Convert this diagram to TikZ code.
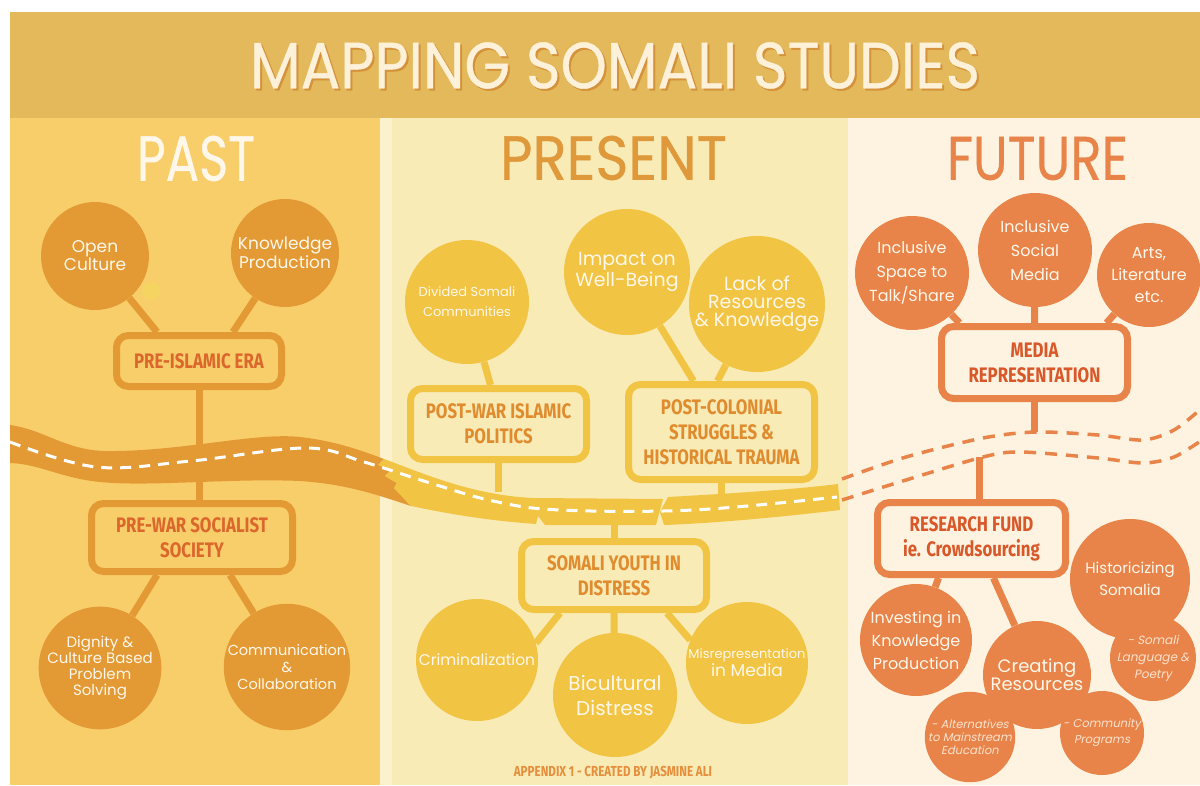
\documentclass[tikz,border=0pt]{standalone}
\usepackage{fontspec}
\usepackage{graphicx}
\newfontfamily\roundfont{Poppins}
\newfontfamily\subfont{Poppins}[FakeSlant=0.2]
\newfontfamily\boxfont{Fira Sans}[FakeStretch=0.8]
\newfontfamily\headfont{Poppins}[FakeBold=0.6]
\newcommand\cfnt[2]{\roundfont\fontsize{#1}{#2}\selectfont}
\newcommand\sfnt[2]{\subfont\fontsize{#1}{#2}\selectfont}
\newcommand\bfnt{\boxfont\bfseries\fontsize{21}{25}\selectfont}

\definecolor{titleband}{HTML}{E4B95B}
\definecolor{titletext}{HTML}{FDF1DA}
\definecolor{titleshade}{HTML}{D4923A}
\definecolor{pastbg}{HTML}{F8CE6A}
\definecolor{pastdark}{HTML}{E39A34}
\definecolor{pasttext}{HTML}{DC672C}
\definecolor{presbg}{HTML}{F8EBB6}
\definecolor{presedge}{HTML}{FBF1CC}
\definecolor{presdark}{HTML}{F2C443}
\definecolor{prestext}{HTML}{E08C2E}
\definecolor{preshead}{HTML}{E0993A}
\definecolor{futbg}{HTML}{FDF3E0}
\definecolor{futdark}{HTML}{E8844A}
\definecolor{futtext}{HTML}{D9582A}
\definecolor{cream}{HTML}{FFF7EA}
\definecolor{subcream}{HTML}{FBE2CC}
\definecolor{dotc}{HTML}{F6D462}
\definecolor{foot}{HTML}{E58E3C}

\pgfdeclarelayer{bg}
\pgfdeclarelayer{lines}
\pgfdeclarelayer{road}
\pgfsetlayers{bg,lines,road,main}

\tikzset{
  bub/.style={circle, text=cream, align=center, inner sep=0pt, minimum size=#1},
  pastbub/.style={bub=#1, fill=pastdark},
  presbub/.style={bub=#1, fill=presdark},
  futbub/.style={bub=#1, fill=futdark},
  subbub/.style={circle, fill=futdark, text=subcream, align=center, inner sep=0pt, minimum size=#1},
  topicbox/.style={rectangle, rounded corners=12pt, line width=7pt, align=center, inner sep=0pt, font=\bfnt},
  pastbox/.style={topicbox, draw=pastdark, fill=pastbg, text=pasttext},
  presbox/.style={topicbox, draw=presdark, fill=presbg, text=prestext},
  futbox/.style={topicbox, draw=futdark, fill=futbg, text=futtext},
  pastline/.style={draw=pastdark, line width=7pt},
  presline/.style={draw=presdark, line width=7pt},
  futline/.style={draw=futdark, line width=7pt},
  heading/.style={inner sep=0pt, anchor=center}
}

\begin{document}
\begin{tikzpicture}[x=1pt,y=-1pt]
\useasboundingbox (0,0) rectangle (1200,785);

% backgrounds
\begin{pgfonlayer}{bg}
\fill[white] (0,0) rectangle (1200,785);
\fill[titleband] (10,12) rectangle (1200,118);
\fill[pastbg] (10,118) rectangle (380,785);
\fill[presbg] (380,118) rectangle (848,785);
\fill[presedge] (380,118) rectangle (392,785);
\fill[futbg] (848,118) rectangle (1200,785);
\end{pgfonlayer}

% title and column headings
\node[heading, text=titleshade] (titlesh) at (617,67.5) {\resizebox{730pt}{46pt}{\headfont MAPPING SOMALI STUDIES}};
\node[heading, text=titletext] (title) at (615,65.5) {\resizebox{730pt}{46pt}{\headfont MAPPING SOMALI STUDIES}};
\node[heading, text=cream] (hpast) at (196,158.5) {\resizebox{118pt}{45pt}{\headfont PAST}};
\node[heading, text=preshead] (hpres) at (613.5,158) {\resizebox{227pt}{44pt}{\headfont PRESENT}};
\node[heading, text=futdark] (hfut) at (1037.5,158.5) {\resizebox{181pt}{43pt}{\headfont FUTURE}};

% road through past and present
\begin{pgfonlayer}{road}
\fill[pastdark] (10,425) .. controls (45,430) and (65,450) .. (105,451)
  .. controls (180,452) and (255,432) .. (300,437)
  .. controls (335,441) and (360,450) .. (384,459)
  -- (378,465) -- (391,470) -- (385,476) -- (397,483) -- (394,488) -- (411,506)
  .. controls (375,494) and (345,484) .. (300,481)
  .. controls (230,478) and (150,487) .. (100,482)
  .. controls (60,478) and (40,464) .. (10,463) -- cycle;
\fill[presdark] (384,459) .. controls (420,472) and (470,495) .. (533,498)
  -- (663,499) -- (656,525) -- (545,525) -- (538,516) -- (536,524)
  .. controls (480,520) and (440,512) .. (411,506)
  -- (394,488) -- (397,483) -- (385,476) -- (391,470) -- (378,465) -- cycle;
\fill[presdark] (668,497) .. controls (720,494) and (790,490) .. (838,484)
  -- (840,510) .. controls (790,516) and (720,523) .. (664,525) -- (660,512) -- cycle;
\draw[white, line width=3pt, dash pattern=on 11pt off 8pt]
  plot[smooth, tension=0.6] coordinates {(10,442) (96,467) (191,461) (306,448) (364,462) (427,482) (493,501) (560,510) (693,510) (837,497)};
% future road, still only sketched
\draw[futdark, line width=3.5pt, dash pattern=on 12pt off 9pt]
  plot[smooth] coordinates {(842,479) (906,457) (983,438) (1036,432) (1098,435) (1143,440) (1174,430) (1202,408)};
\draw[futdark, line width=3.5pt, dash pattern=on 12pt off 9pt]
  plot[smooth] coordinates {(842,500) (906,480) (983,457) (1021,452) (1098,458) (1143,463) (1174,457) (1202,440)};
\end{pgfonlayer}
\coordinate (pwroad) at (498,492);
\coordinate (pcroad) at (721,494);
\coordinate (yroad) at (614,518);
\coordinate (mdash) at (1035,432);
\coordinate (rdash) at (979,457);

% PAST
\node[pastbub=108pt, font={\cfnt{17}{16}}] (open) at (95,256) {Open\\Culture};
\node[pastbub=108pt, font={\cfnt{17}{15}}] (know) at (285,253) {Knowledge\\Production};
\fill[dotc] (151,291) circle (9);
\node[pastbox, minimum width=165pt, minimum height=51pt] (preislam) at (199,361) {PRE-ISLAMIC ERA};
\node[pastbox, minimum width=201pt, minimum height=68pt] (prewar) at (192,537.5) {PRE-WAR SOCIALIST\\SOCIETY};
\node[pastbub=112pt, font={\cfnt{15}{16}}] (dignity) at (100,668) {Dignity \&\\Culture Based\\Problem\\Solving};
\node[pastbub=118pt, font={\cfnt{14.5}{17}}] (comm) at (287,667) {Communication\\\&\\Collaboration};

% PRESENT
\node[presbub=124pt, font={\cfnt{13}{20}}] (divided) at (467,302) {Divided Somali\\Communities};
\node[presbub=126pt, font={\cfnt{19}{19}}] (impact) at (627,272) {Impact on\\Well-Being};
\node[presbub=126pt, font={\cfnt{19}{18}}] (lack) at (757,304) {Lack of\\Resources\\\& Knowledge};
\node[presbox, minimum width=176pt, minimum height=71pt] (postwar) at (498.5,424) {POST-WAR ISLAMIC\\POLITICS};
\node[presbox, minimum width=186pt, minimum height=95pt] (postcol) at (721.5,432) {POST-COLONIAL\\STRUGGLES \&\\HISTORICAL TRAUMA};
\node[presbox, minimum width=185pt, minimum height=68pt] (youth) at (614,575.5) {SOMALI YOUTH IN\\DISTRESS};
\node[presbub=122pt, font={\cfnt{15.5}{18}}] (crim) at (477,660) {Criminalization};
\node[presbub=124pt, font={\cfnt{20}{25}}] (bicult) at (615,695) {Bicultural\\Distress};
\node[presbub=122pt, font={\cfnt{13}{18}}] (misrep) at (747,663) {Misrepresentation\\{\fontsize{17}{18}\selectfont in Media}};
\node[inner sep=0pt, text=foot, font={\boxfont\bfseries\fontsize{14.5}{15}\selectfont}] (footer) at (613,773) {APPENDIX 1 - CREATED BY JASMINE ALI};

% FUTURE
\node[futbub=114pt, font={\cfnt{16}{24}}] (space) at (912,273) {Inclusive\\Space to\\Talk/Share};
\node[futbub=114pt, font={\cfnt{16}{24}}] (social) at (1035,250) {Inclusive\\Social\\Media};
\node[futbub=104pt, font={\cfnt{16}{22}}] (arts) at (1149,275) {Arts,\\Literature\\etc.};
\node[futbox, minimum width=186pt, minimum height=72pt] (media) at (1034.5,362.5) {MEDIA\\REPRESENTATION};
\node[futbox, minimum width=188pt, minimum height=72pt] (research) at (971.5,538.5) {RESEARCH FUND\\ie. Crowdsourcing};
\node[futbub=120pt, font={\cfnt{15}{22}}] (hist) at (1130,579) {Historicizing\\Somalia};
\node[futbub=112pt, font={\cfnt{16}{23}}] (invest) at (916,640) {Investing in\\Knowledge\\Production};
\node[futbub=108pt, font={\cfnt{18}{17}}] (create) at (1037,675) {Creating\\Resources};
\node[subbub=84pt, font={\sfnt{12}{17}}] (lang) at (1153,658) {- Somali\\Language \&\\Poetry};
\node[subbub=80pt, font={\sfnt{11.5}{13}}] (alt) at (970,737) {- Alternatives\\to Mainstream\\Education};
\node[subbub=84pt, font={\sfnt{11.5}{16}}] (commprog) at (1102,733) {- Community\\Programs};

% connectors
\begin{pgfonlayer}{lines}
\draw[pastline] (open) -- ([xshift=-42pt]preislam.north);
\draw[pastline] (know) -- ([xshift=34pt]preislam.north);
\draw[pastline] (preislam.south) -- (preislam.south |- prewar.north);
\draw[pastline] ([xshift=-35pt]prewar.south) -- (dignity);
\draw[pastline] ([xshift=38pt]prewar.south) -- (comm);

\draw[presline] (divided) -- ([xshift=-8pt]postwar.north);
\draw[presline] (impact) -- ([xshift=-28pt]postcol.north);
\draw[presline] (lack) -- ([xshift=-4pt]postcol.north);
\draw[presline] (postwar.south) -- (postwar.south |- pwroad);
\draw[presline] (postcol.south) -- (postcol.south |- pcroad);
\draw[presline] (yroad) -- (yroad |- youth.north);
\draw[presline] ([xshift=-54pt]youth.south) -- (crim.16);
\draw[presline] (youth.south) -- (bicult);
\draw[presline] ([xshift=53pt]youth.south) -- (misrep.158);

\draw[futline] (space) -- ([xshift=-75pt]media.north);
\draw[futline] (social) -- (media.north);
\draw[futline] (arts) -- ([xshift=72pt]media.north);
\draw[futline] (media.south) -- (media.south |- mdash);
\draw[futline] (rdash) -- (rdash |- research.north);
\draw[futline] ([xshift=-33pt]research.south) -- (invest);
\draw[futline] ([xshift=22pt]research.south) -- (create);
\end{pgfonlayer}
\end{tikzpicture}
\end{document}
